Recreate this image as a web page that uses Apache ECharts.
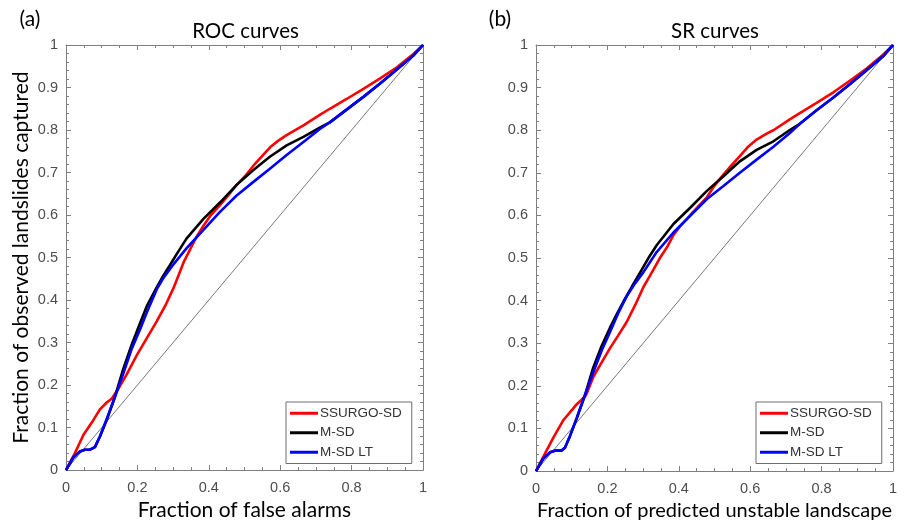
<!DOCTYPE html>
<html>
<head>
<meta charset="utf-8">
<script src="https://cdn.jsdelivr.net/npm/echarts@6/dist/echarts.min.js"></script>
<style>
html,body{margin:0;padding:0;background:#fff;}
#chart{width:909px;height:526px;}
</style>
</head>
<body>
<div id="chart"></div>
<script>
// ---- data ----
const seriesNames = ['SSURGO-SD', 'M-SD', 'M-SD LT'];
const panelTitles = ['ROC curves', 'SR curves'];
const panelTags = ['(a)', '(b)'];
const xAxisTitles = ['Fraction of false alarms', 'Fraction of predicted unstable landscape'];
const yAxisTitle = 'Fraction of observed landslides captured';
const diagonal = [[0, 0], [1, 1]];

// ROC panel
const rocSsurgo = [[0,0],[0.025,0.04],[0.049,0.083],[0.077,0.118],[0.095,0.143],[0.114,0.159],[0.128,0.168],[0.147,0.192],[0.17,0.225],[0.198,0.27],[0.226,0.31],[0.254,0.35],[0.28,0.39],[0.301,0.428],[0.329,0.488],[0.348,0.52],[0.366,0.549],[0.385,0.575],[0.404,0.598],[0.432,0.624],[0.46,0.652],[0.478,0.671],[0.5,0.69],[0.525,0.716],[0.553,0.742],[0.575,0.762],[0.595,0.775],[0.618,0.788],[0.665,0.811],[0.712,0.836],[0.739,0.85],[0.786,0.873],[0.833,0.897],[0.879,0.921],[0.926,0.947],[0.973,0.979],[1,1]];
const rocMsd = [[0,0],[0.02,0.029],[0.039,0.044],[0.053,0.048],[0.067,0.048],[0.081,0.054],[0.095,0.079],[0.114,0.118],[0.137,0.172],[0.16,0.237],[0.184,0.295],[0.207,0.345],[0.226,0.385],[0.254,0.43],[0.273,0.458],[0.291,0.482],[0.31,0.508],[0.338,0.545],[0.385,0.591],[0.432,0.63],[0.478,0.671],[0.525,0.706],[0.571,0.737],[0.618,0.764],[0.665,0.784],[0.712,0.806],[0.739,0.818],[0.786,0.848],[0.833,0.878],[0.879,0.909],[0.926,0.942],[0.973,0.975],[1,1]];
const rocMsdLt = [[0,0],[0.02,0.029],[0.039,0.044],[0.053,0.048],[0.067,0.048],[0.081,0.054],[0.095,0.079],[0.114,0.12],[0.137,0.172],[0.161,0.228],[0.184,0.285],[0.207,0.33],[0.226,0.37],[0.254,0.425],[0.273,0.452],[0.301,0.484],[0.338,0.522],[0.385,0.565],[0.432,0.608],[0.478,0.646],[0.525,0.678],[0.571,0.709],[0.618,0.741],[0.665,0.772],[0.712,0.803],[0.739,0.818],[0.786,0.848],[0.833,0.878],[0.879,0.909],[0.926,0.942],[0.973,0.975],[1,1]];

// SR panel
const srSsurgo = [[0,0],[0.02,0.033],[0.049,0.079],[0.077,0.12],[0.095,0.138],[0.112,0.155],[0.127,0.167],[0.14,0.178],[0.161,0.222],[0.184,0.255],[0.207,0.288],[0.23,0.318],[0.254,0.35],[0.278,0.39],[0.301,0.432],[0.319,0.458],[0.347,0.5],[0.366,0.524],[0.385,0.554],[0.404,0.575],[0.432,0.601],[0.455,0.622],[0.478,0.642],[0.5,0.67],[0.525,0.696],[0.548,0.718],[0.571,0.739],[0.595,0.762],[0.618,0.778],[0.646,0.792],[0.665,0.8],[0.712,0.826],[0.739,0.84],[0.786,0.864],[0.833,0.889],[0.879,0.916],[0.926,0.945],[0.973,0.978],[1,1]];
const srMsd = [[0,0],[0.02,0.029],[0.039,0.044],[0.053,0.048],[0.071,0.048],[0.081,0.055],[0.095,0.082],[0.114,0.124],[0.137,0.178],[0.16,0.242],[0.184,0.294],[0.207,0.336],[0.226,0.368],[0.245,0.398],[0.268,0.432],[0.291,0.465],[0.315,0.5],[0.338,0.53],[0.385,0.58],[0.432,0.618],[0.478,0.657],[0.525,0.692],[0.571,0.727],[0.618,0.754],[0.665,0.774],[0.712,0.801],[0.739,0.815],[0.786,0.847],[0.833,0.877],[0.879,0.908],[0.926,0.941],[0.973,0.974],[1,1]];
const srMsdLt = [[0,0],[0.02,0.029],[0.039,0.044],[0.053,0.048],[0.071,0.048],[0.081,0.055],[0.095,0.082],[0.114,0.124],[0.137,0.178],[0.161,0.233],[0.184,0.283],[0.207,0.326],[0.23,0.37],[0.254,0.41],[0.277,0.44],[0.301,0.467],[0.338,0.514],[0.385,0.56],[0.432,0.599],[0.478,0.638],[0.525,0.669],[0.571,0.7],[0.618,0.731],[0.665,0.761],[0.712,0.794],[0.739,0.815],[0.786,0.847],[0.833,0.877],[0.879,0.908],[0.926,0.941],[0.973,0.974],[1,1]];

// ---- styling ----
const colors = ['#ff0000', '#000000', '#0000ff'];
const axisGray = '#7f7f7f';
const labelGray = '#4d4d4d';
const titleFont = 'Lato, "Open Sans", sans-serif';
const tickFont = '"Liberation Sans", Arial, sans-serif';
const grids = [
  {left: 66, top: 45, width: 357, height: 428},
  {left: 536, top: 45, width: 357, height: 428}
];

function xAxes(gi) {
  const base = {
    type: 'value', gridIndex: gi, min: 0, max: 1, interval: 0.2,
    axisLine: {show: true, onZero: false, lineStyle: {color: axisGray, width: 1}},
    axisTick: {show: true, inside: true, length: 5, lineStyle: {color: axisGray}},
    minorTick: {show: true, splitNumber: 4, length: 3, lineStyle: {color: axisGray}},
    splitLine: {show: false}
  };
  return [
    Object.assign({}, base, {
      position: 'bottom',
      axisLabel: {show: true, margin: 10, color: labelGray, fontFamily: tickFont, fontSize: 14.5},
      name: xAxisTitles[gi], nameLocation: 'middle', nameGap: 26,
      nameTextStyle: {fontFamily: titleFont, fontSize: gi === 0 ? 21 : 20, color: '#000'}
    }),
    Object.assign({}, base, {position: 'top', axisLabel: {show: false}})
  ];
}
function yAxes(gi) {
  const base = {
    type: 'value', gridIndex: gi, min: 0, max: 1, interval: 0.1,
    axisLine: {show: true, onZero: false, lineStyle: {color: axisGray, width: 1}},
    axisTick: {show: true, inside: true, length: 5, lineStyle: {color: axisGray}},
    minorTick: {show: true, splitNumber: 5, length: 3, lineStyle: {color: axisGray}},
    splitLine: {show: false}
  };
  const left = Object.assign({}, base, {
    position: 'left',
    axisLabel: {show: true, margin: 8, color: labelGray, fontFamily: tickFont, fontSize: 14.5}
  });
  if (gi === 0) {
    Object.assign(left, {
      name: yAxisTitle, nameLocation: 'middle', nameGap: 34,
      nameTextStyle: {fontFamily: titleFont, fontSize: 21, color: '#000'}
    });
  }
  return [left, Object.assign({}, base, {position: 'right', axisLabel: {show: false}})];
}

const panelData = [[rocSsurgo, rocMsd, rocMsdLt], [srSsurgo, srMsd, srMsdLt]];
const series = [];
const xAxis = [], yAxis = [];
for (let gi = 0; gi < 2; gi++) {
  xAxis.push(...xAxes(gi));
  yAxis.push(...yAxes(gi));
  const xi = gi * 2, yi = gi * 2;
  series.push({
    type: 'line', name: 'diag', xAxisIndex: xi, yAxisIndex: yi, data: diagonal,
    showSymbol: false, silent: true, lineStyle: {color: '#555', width: 0.8}, z: 1
  });
  for (let s = 0; s < 3; s++) {
    series.push({
      type: 'line', name: seriesNames[s], xAxisIndex: xi, yAxisIndex: yi,
      data: panelData[gi][s], showSymbol: false, symbol: 'none',
      lineStyle: {color: colors[s], width: 2.6}, itemStyle: {color: colors[s]}, z: 2 + s
    });
  }
}

function legendFor(left) {
  return {
    data: seriesNames, orient: 'vertical', left: left, top: 402,
    icon: 'rect', itemWidth: 28, itemHeight: 3, itemGap: 5,
    padding: [4, 10, 4, 4], borderColor: '#6e6e6e', borderWidth: 1, borderRadius: 0,
    backgroundColor: '#fff', selectedMode: false,
    textStyle: {fontFamily: tickFont, fontSize: 13.5, color: '#333', padding: [0,0,0,-3], lineHeight: 14.5}
  };
}

const chart = echarts.init(document.getElementById('chart'), null, {renderer: 'canvas'});
chart.setOption({
  animation: false,
  backgroundColor: '#fff',
  grid: grids,
  xAxis: xAxis,
  yAxis: yAxis,
  legend: [legendFor(286), legendFor(756)],
  series: series,
  graphic: [
    {type: 'text', x: 30, y: 19, style: {text: panelTags[0], font: '21px ' + titleFont, fill: '#000', textAlign: 'center', textVerticalAlign: 'middle'}},
    {type: 'text', x: 500, y: 19, style: {text: panelTags[1], font: '21px ' + titleFont, fill: '#000', textAlign: 'center', textVerticalAlign: 'middle'}},
    {type: 'text', x: 245.5, y: 31, style: {text: panelTitles[0], font: '20.5px ' + titleFont, fill: '#000', textAlign: 'center', textVerticalAlign: 'middle'}},
    {type: 'text', x: 715, y: 31, style: {text: panelTitles[1], font: '20.5px ' + titleFont, fill: '#000', textAlign: 'center', textVerticalAlign: 'middle'}}
  ]
});
</script>
</body>
</html>
